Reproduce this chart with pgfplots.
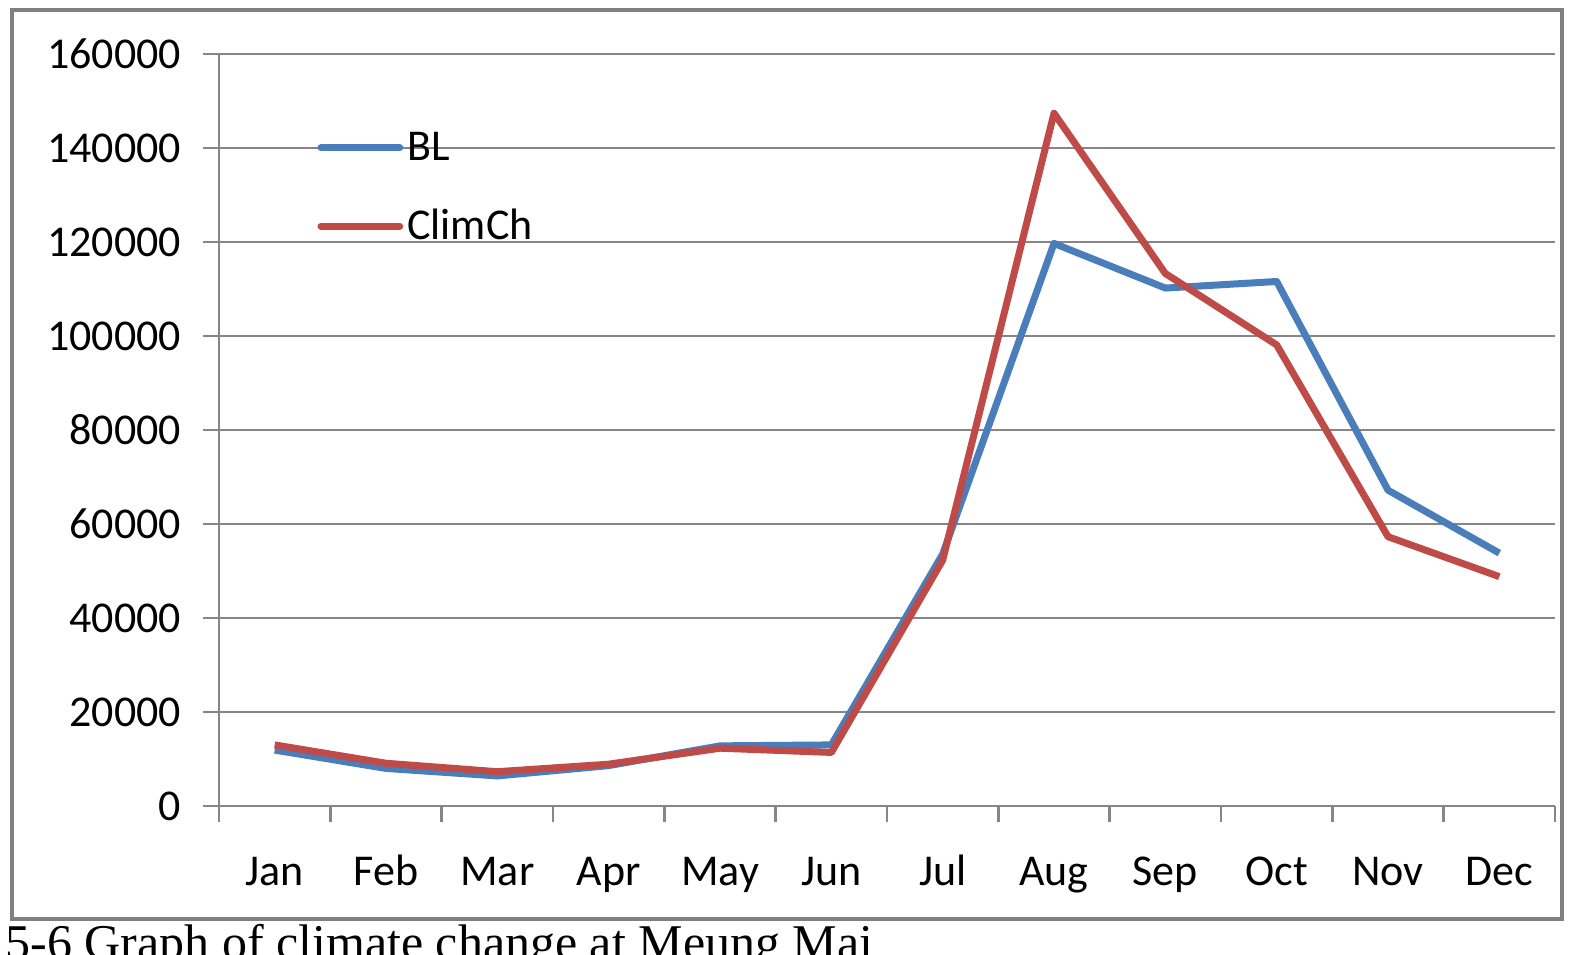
\documentclass[border=0pt]{standalone}
\usepackage{fontspec}
\setmainfont{Carlito}
\newfontfamily\capfont{Liberation Serif}
\usepackage{pgfplots}
\pgfplotsset{compat=1.18}
\definecolor{blBlue}{RGB}{74,126,187}
\definecolor{ccRed}{RGB}{190,75,72}
\definecolor{gridGray}{RGB}{134,134,134}
\definecolor{frameGray}{RGB}{128,128,128}
\begin{document}
\begin{tikzpicture}
\clip (0pt,0pt) rectangle (796.5pt,-477pt);
\fill[white] (0pt,0pt) rectangle (796.5pt,-477pt);
\draw[frameGray, line width=2pt] (6pt,-5pt) rectangle (781pt,-459.5pt);
\begin{axis}[
  at={(109.5pt,-403pt)}, anchor=south west,
  scale only axis, width=668pt, height=376pt,
  xmin=-0.5, xmax=11.5, ymin=0, ymax=160000,
  axis lines*=left,
  axis line style={gridGray, line width=1.2pt},
  ymajorgrids, grid style={gridGray, line width=1.2pt},
  ytick={0,20000,40000,60000,80000,100000,120000,140000,160000},
  scaled y ticks=false,
  yticklabel style={/pgf/number format/.cd, fixed, 1000 sep={}, assume math mode=true, /tikz/.cd, xshift=-7.5pt},
  xtick={-0.5,0.5,...,11.5},
  x tick label as interval,
  xticklabels={Jan,Feb,Mar,Apr,May,Jun,Jul,Aug,Sep,Oct,Nov,Dec},
  xticklabel style={anchor=base, yshift=-31.5pt},
  tick align=outside, major tick length=8pt,
  tick style={gridGray, line width=1.2pt},
  tick label style={font=\fontsize{22}{26}\selectfont, text=black},
  legend style={at={(0.0734,0.902)}, anchor=north west, draw=none, fill=none,
    inner sep=0pt, row sep=19pt, font=\fontsize{22}{26}\selectfont},
  legend cell align=left,
  legend image code/.code={\draw[#1, line cap=round] (1.6pt,0pt) -- (41pt,0pt);},
]
\addplot[blBlue, line width=3.5pt, line join=round] coordinates {
(0,11900) (1,8000) (2,6400) (3,8600) (4,12800) (5,13000)
(6,53600) (7,119700) (8,110200) (9,111600) (10,67200) (11,53800)};
\addlegendentry{BL}
\addplot[ccRed, line width=3.5pt, line join=round] coordinates {
(0,13000) (1,9100) (2,7300) (3,8900) (4,12300) (5,11400)
(6,52300) (7,147400) (8,113300) (9,98100) (10,57300) (11,48800)};
\addlegendentry{ClimCh}
\end{axis}
\node[anchor=base west, inner sep=0pt, font=\capfont\fontsize{25}{30}\selectfont] at (2.5pt,-479.5pt) {5-6 Graph of climate change at Meung Mai};
\end{tikzpicture}
\end{document}
